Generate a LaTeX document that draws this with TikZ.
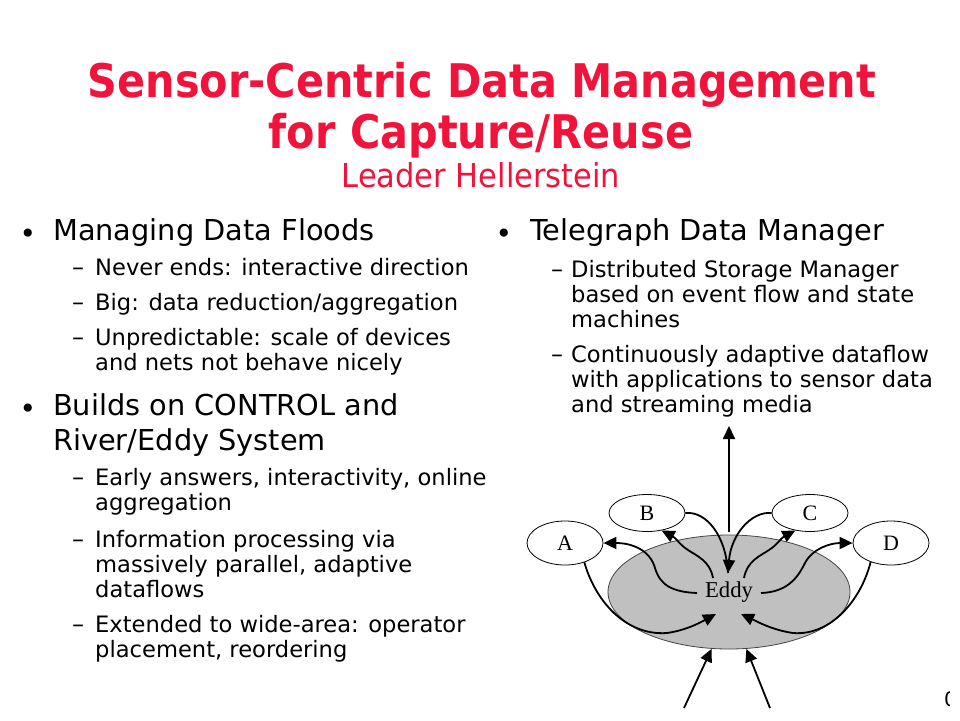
\documentclass[tikz,border=0pt]{standalone}
\usepackage{fontspec}
\setmainfont{DejaVu Sans}
\newfontfamily\timesfont{Liberation Serif}
\usetikzlibrary{shapes.geometric,arrows.meta}
\definecolor{titlered}{RGB}{240,20,60}
\definecolor{eddygray}{RGB}{192,192,192}
\definecolor{eddyedge}{RGB}{70,70,70}
\begin{document}
\begin{tikzpicture}[x=1pt,y=-1pt,
  ttl/.style={anchor=base, inner sep=0, text=titlered, font=\fontsize{41.4}{48}\selectfont\bfseries},
  subttl/.style={anchor=base, inner sep=0, text=titlered, font=\fontsize{30.5}{34}\selectfont},
  lvlone/.style={anchor=base west, inner sep=0, font=\fontsize{28.8}{34}\selectfont},
  lvltwo/.style={anchor=base west, inner sep=0, font=\fontsize{22.6}{25}\selectfont},
  bul/.style={anchor=base, inner sep=0, font=\fontsize{28}{28}\selectfont},
  dashmark/.style={anchor=base west, inner sep=0, font=\fontsize{24}{25}\selectfont},
  smallell/.style={ellipse, draw=black, line width=0.8pt, fill=white, inner sep=0,
    minimum width=76, minimum height=40, font=\timesfont\fontsize{22}{22}\selectfont},
  arr/.style={line width=1.8pt, -{Triangle[length=13pt,width=12pt]}},
  plain/.style={line width=1.8pt}
]
\useasboundingbox[fill=white] (0,0) rectangle (960,720);

% Title
\node[ttl] (t1) at (482,97) {\scalebox{1}[1.12]{Sensor-Centric Data Management}};
\node[ttl] (t2) at (481,148) {\scalebox{1}[1.12]{for Capture/Reuse}};
\node[subttl] (t3) at (481,187) {\scalebox{1}[1.08]{Leader Hellerstein}};

% Left column
\node[bul] (b1) at (28,243) {•};
\node[lvlone] (m1) at (53,240) {Managing Data Floods};
\node[dashmark] (d11) at (72,275) {–};
\node[lvltwo] (s11) at (95,275) {Never ends: interactive direction};
\node[dashmark] (d12) at (72,310) {–};
\node[lvltwo] (s12) at (95,310) {Big: data reduction/aggregation};
\node[dashmark] (d13) at (72,345) {–};
\node[lvltwo] (s13a) at (95,345) {Unpredictable: scale of devices};
\node[lvltwo] (s13b) at (95,370) {and nets not behave nicely};

\node[bul] (b2) at (28,418) {•};
\node[lvlone] (m2a) at (53,415) {Builds on CONTROL and};
\node[lvlone] (m2b) at (53,450) {River/Eddy System};
\node[dashmark] (d21) at (72,485) {–};
\node[lvltwo] (s21a) at (95,485) {Early answers, interactivity, online};
\node[lvltwo] (s21b) at (95,510) {aggregation};
\node[dashmark] (d22) at (72,547) {–};
\node[lvltwo] (s22a) at (95,547) {Information processing via};
\node[lvltwo] (s22b) at (95,572) {massively parallel, adaptive};
\node[lvltwo] (s22c) at (95,597) {dataflows};
\node[dashmark] (d23) at (72,632) {–};
\node[lvltwo] (s23a) at (95,632) {Extended to wide-area: operator};
\node[lvltwo] (s23b) at (95,657) {placement, reordering};

% Right column
\node[bul] (b3) at (504,243) {•};
\node[lvlone] (m3) at (530,240) {Telegraph Data Manager};
\node[dashmark] (d31) at (551,277) {–};
\node[lvltwo] (s31a) at (571,277) {Distributed Storage Manager};
\node[lvltwo] (s31b) at (571,302) {based on event flow and state};
\node[lvltwo] (s31c) at (571,327) {machines};
\node[dashmark] (d32) at (551,362) {–};
\node[lvltwo] (s32a) at (571,362) {Continuously adaptive dataflow};
\node[lvltwo] (s32b) at (571,387) {with applications to sensor data};
\node[lvltwo] (s32c) at (571,412) {and streaming media};

% Eddy diagram
\node[ellipse, draw=eddyedge, line width=0.8pt, fill=eddygray, inner sep=0,
  minimum width=242, minimum height=114] (E) at (729,592) {};
\node[inner sep=0, font=\timesfont\fontsize{22.7}{22}\selectfont] (Elabel) at (729,592) {Eddy};
\node[smallell, minimum height=44] (A) at (565,543) {A};
\node[smallell, minimum height=37] (B) at (647,513) {B};
\node[smallell, minimum height=37] (C) at (810,513) {C};
\node[smallell, minimum height=44] (D) at (891,543) {D};

\coordinate (eA) at (697,593);
\coordinate (eB) at (713,578);
\coordinate (eC) at (744,578);
\coordinate (eD) at (761,593);
\coordinate (eBC) at (728,573);
\coordinate (eAin) at (716,614);
\coordinate (eDin) at (741,614);
\coordinate (outtop) at (729,426);
\coordinate (outbase) at (729,532);
\coordinate (in1) at (684,708);
\coordinate (in2) at (770,708);

% Eddy -> A
\draw[arr] (eA) .. controls (672,592) and (660,585) .. (655,568)
  .. controls (650,550) and (632,543) .. (A.east);
% A -> Eddy
\draw[arr] (A.-45) .. controls (595,600) and (625,636) .. (667,633)
  .. controls (688,630) and (703,621) .. (eAin);
% Eddy -> B
\draw[arr] (eB) .. controls (710,561) and (697,556) .. (688,550)
  .. controls (680,545) and (676,538) .. (B.-50);
% B -> Eddy, C -> Eddy
\draw[plain] (B.east) .. controls (706,511) and (726,535) .. (eBC);
\draw[arr] (C.west) .. controls (751,511) and (731,535) .. (eBC);
% Eddy -> C
\draw[arr] (eC) .. controls (747,561) and (760,556) .. (769,550)
  .. controls (777,545) and (781,538) .. (C.-130);
% Eddy -> D
\draw[arr] (eD) .. controls (788,592) and (798,577) .. (805,563)
  .. controls (812,549) and (830,543) .. (D.west);
% D -> Eddy
\draw[arr] (D.-137) .. controls (861,600) and (831,636) .. (793,633)
  .. controls (772,630) and (756,621) .. (eDin);
% output
\draw[arr] (outbase) -- (outtop);
% inputs
\draw[arr] (in1) -- (E.-107);
\draw[arr] (in2) -- (E.-73);

% cut-off slide number
\begin{scope}
\clip (940,680) rectangle (949,720);
\node[anchor=base west, inner sep=0, font=\fontsize{20}{20}\selectfont] (pg) at (944,706) {0};
\end{scope}
\end{tikzpicture}
\end{document}
